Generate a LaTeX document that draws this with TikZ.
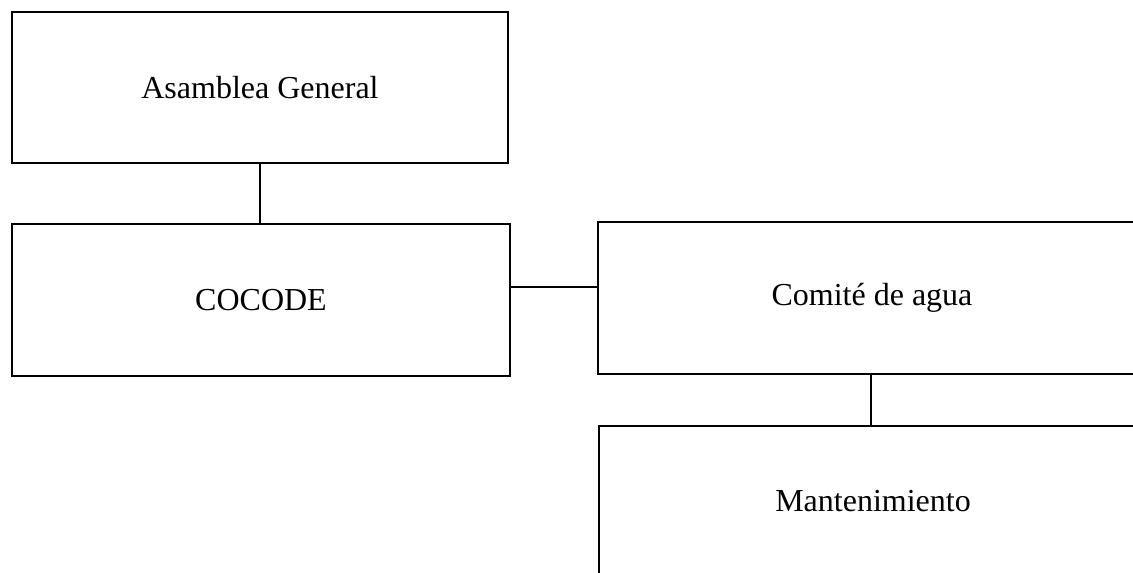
\documentclass[tikz,border=0pt]{standalone}
\usepackage{fontspec}
\setmainfont{Liberation Serif}
\begin{document}
\begin{tikzpicture}[x=1pt,y=-1pt,
  orgbox/.style={draw, line width=1.6pt, rectangle, inner sep=0pt, outer sep=0pt,
    font=\fontsize{32}{36}\selectfont, align=center},
  link/.style={line width=1.4pt}]
\useasboundingbox (0,0) rectangle (1133,573);
\clip (0,0) rectangle (1133,573);
\node[orgbox, minimum width=496pt, minimum height=151pt] (A) at (260,87.5) {Asamblea General};
\node[orgbox, minimum width=498pt, minimum height=152pt] (C) at (261,300) {COCODE};
\node[orgbox, minimum width=548pt, minimum height=152pt] (W) at (872,298) {Comit\'e de agua};
\node[orgbox, minimum width=548pt, minimum height=150pt] (M) at (873,501) {Mantenimiento};
\draw[link] (A.south) -- (A.south |- C.north);
\draw[link] ([yshift=13pt]C.east) -- ([yshift=13pt]C.east -| W.west);
\draw[link] ([xshift=-1pt]W.south) -- ([xshift=-1pt]W.south |- M.north);
\end{tikzpicture}
\end{document}
